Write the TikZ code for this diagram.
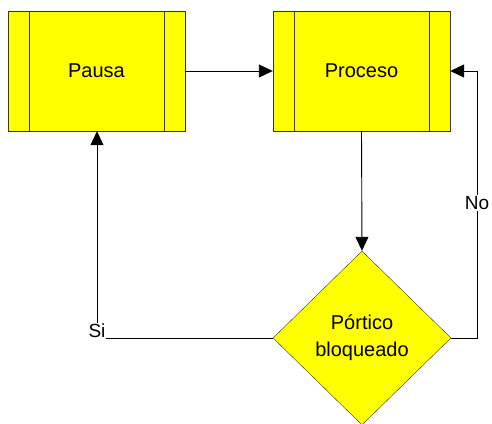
\documentclass[tikz,border=0pt]{standalone}
\usepackage{fontspec}
\setmainfont{Liberation Sans}
\usetikzlibrary{shapes.geometric,arrows.meta,calc}
\definecolor{boxfill}{RGB}{255,255,0}
\definecolor{boxline}{RGB}{51,51,51}
\begin{document}
\begin{tikzpicture}[x=1pt,y=-1pt,
  procbox/.style={draw=boxline,fill=boxfill,rectangle,minimum width=177pt,minimum height=120pt,inner sep=0pt,font=\fontsize{20}{24}\selectfont},
  decision/.style={draw=boxline,fill=boxfill,diamond,minimum width=178pt,minimum height=174pt,inner sep=0pt,align=center,font=\fontsize{20}{27}\selectfont},
  conn/.style={draw=black,line width=0.9pt},
  arr/.style={conn,-{Triangle[length=14pt,width=13pt]}},
  lbl/.style={fill=white,inner sep=1pt,font=\fontsize{19}{22}\selectfont}]
\useasboundingbox (0,0) rectangle (492,423);

% process boxes with side bars
\node[procbox] (pausa) at (96.5,71) {Pausa};
\node[procbox] (proceso) at (361.5,71) {Proceso};
\foreach \b in {pausa,proceso}{
  \draw[boxline] ($(\b.north west)+(21,0)$) -- ($(\b.south west)+(21,0)$);
  \draw[boxline] ($(\b.north east)+(-21,0)$) -- ($(\b.south east)+(-21,0)$);
}

% decision
\node[decision] (port) at (362,338) {Pórtico\\bloqueado};

% connectors
\draw[arr] (pausa.east) -- (proceso.west);
\draw[arr] (proceso.south) -- (port.north);

\coordinate (nocorner) at (477,338);
\coordinate (notop) at (477,71);
\draw[arr] (port.east) -- (nocorner) -- (notop) -- (proceso.east);
\node[lbl] (no) at (477,203) {No};

\coordinate (sicorner) at (97,338);
\draw[arr] (port.west) -- (sicorner) -- (pausa.south -| sicorner);
\node[lbl] (si) at (97,331) {Si};
\end{tikzpicture}
\end{document}
